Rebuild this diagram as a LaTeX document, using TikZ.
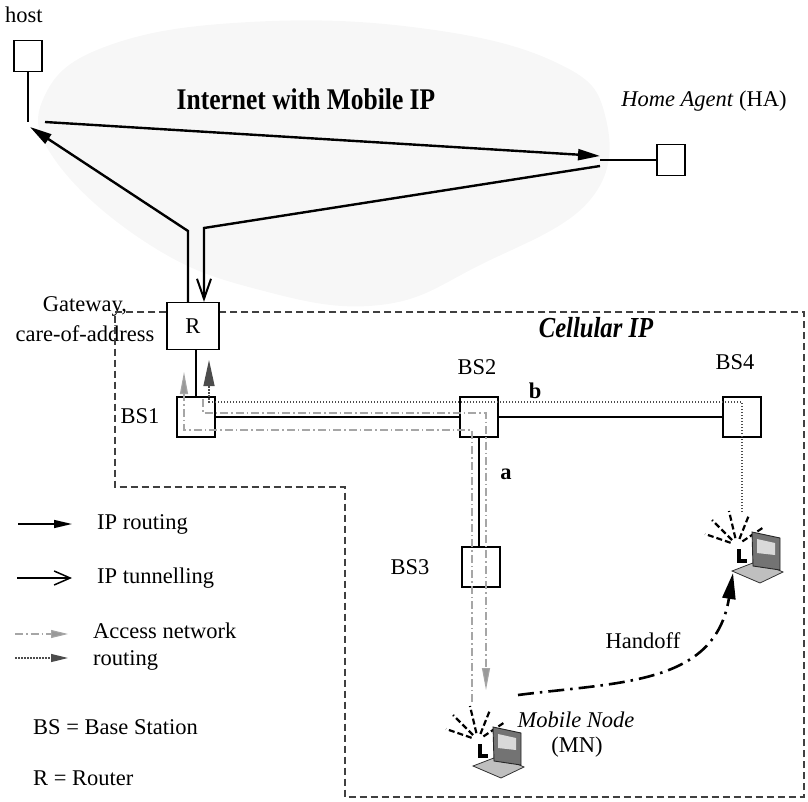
\documentclass[tikz,border=0pt]{standalone}
\usepackage{fontspec}
\setmainfont{Liberation Serif}
\newfontfamily\narrowserif[FakeStretch=0.85]{Liberation Serif}
\usetikzlibrary{arrows.meta}
\tikzset{
  lbl/.style     ={font=\fontsize{22.5}{27}\selectfont, inner sep=0pt},
  term/.style    ={draw, line width=1.3pt, minimum width=28pt, minimum height=31pt, inner sep=0pt},
  stn/.style     ={draw, line width=1.3pt, minimum width=38pt, minimum height=40pt, inner sep=0pt},
  wire/.style    ={line width=1.3pt},
  link/.style    ={line width=1.6pt},
  iproute/.style ={line width=2.4pt, -{Triangle[length=22pt,width=11pt]}},
  iptunnel/.style={line width=2.4pt, -{Straight Barb[length=20pt,width=14pt,line width=2pt]}},
  anrgrey/.style ={black!35, line width=1.1pt, dash pattern=on 8pt off 3pt on 1.5pt off 3pt,
                   -{Triangle[length=22pt,width=8pt,fill=black!40]}},
  anrdot/.style  ={black!70, line width=1.2pt, dash pattern=on 1.5pt off 1.5pt,
                   -{Triangle[length=26pt,width=11pt,fill=black!70]}},
  region/.style  ={black!75, line width=1.2pt, dash pattern=on 7pt off 4pt},
  handoff/.style ={line width=2.6pt, dash pattern=on 16pt off 6pt on 2.5pt off 6pt,
                   -{Triangle[length=26pt,width=13pt]}},
  wave/.style    ={line width=2.2pt, dash pattern=on 6pt off 3pt},
  laptop/.pic={
    % radio waves
    \foreach \dx/\dy in {-32/-11,-25/-25,-8/-34,12/-30,27/-18}
      \draw[wave] (\dx*0.2,\dy*0.2) -- (\dx,\dy);
    % keyboard
    \filldraw[draw=black!80, fill=black!25, line width=0.8pt]
      (-5,26) -- (21,16) -- (46,27) -- (23,38) -- cycle;
    % screen
    \filldraw[draw=black!85, fill=black!55, line width=0.9pt]
      (15,-13) -- (43,-7) -- (43,25) -- (16,21) -- cycle;
    \fill[black!15] (20,-6) -- (38,-2) -- (38,10) -- (20,8) -- cycle;
    % antenna
    \fill[black] (0,4) rectangle (4,18);
    \fill[black] (0,14) rectangle (10,18);
  }
}

\begin{document}
\begin{tikzpicture}[x=1pt, y=-1pt]
  \useasboundingbox (0,0) rectangle (808,802);

  % faint Internet cloud
  \fill[black!3] plot[smooth cycle, tension=0.7] coordinates
    {(55,160) (45,95) (110,45) (250,22) (420,28) (555,62) (605,115)
     (590,200) (480,265) (380,305) (260,290) (150,245)};

  % ---- Mobile IP part ----
  \node[lbl]  (hostlbl) at (24,15) {host};
  \node[term] (host) at (28,56) {};
  \node[term] (ha) at (671,160) {};
  \node[lbl]  (halbl) at (704,101) {\textit{Home Agent} (HA)};
  \node[font=\narrowserif\fontsize{30}{30}\selectfont\bfseries, inner sep=0pt]
        (inet) at (306,99) {Internet with Mobile IP};

  \coordinate (hostap) at (28,122);
  \coordinate (hatap)  at (600,160);
  \coordinate (hout)   at (45,122);
  \coordinate (hin)    at (30,127);
  \coordinate (hain)   at (600,156);
  \coordinate (haout)  at (600,166);
  \coordinate (rbend)  at (188,231);
  \coordinate (tbend)  at (204,228);
  \draw[wire] (host) -- (hostap);
  \draw[wire] (hatap) -- (ha);

  % ---- gateway and base stations ----
  \node[stn, minimum width=52pt, minimum height=47pt, font=\fontsize{22.5}{27}\selectfont]
        (gw) at (193,326) {R};
  \node[lbl, align=center, font=\fontsize{22.5}{30}\selectfont]
        (gwlbl) at (85,319) {Gateway,\\care-of-address};
  \node[stn] (bs1) at (196,417) {};
  \node[stn] (bs2) at (479,417) {};
  \node[stn] (bs3) at (481,567) {};
  \node[stn] (bs4) at (742,417) {};
  \node[lbl] (bs1lbl) at (140,416) {BS1};
  \node[lbl] (bs2lbl) at (477,367) {BS2};
  \node[lbl] (bs3lbl) at (410,567) {BS3};
  \node[lbl] (bs4lbl) at (735,362) {BS4};
  \node[lbl, font=\fontsize{22.5}{27}\selectfont\bfseries] (lblb) at (535,391) {b};
  \node[lbl, font=\fontsize{22.5}{27}\selectfont\bfseries] (lbla) at (506,474) {a};
  \node[font=\narrowserif\fontsize{29}{29}\selectfont\bfseries\itshape, inner sep=0pt]
        (cip) at (596,328) {Cellular IP};

  \draw[region] ([yshift=14pt]gw.west) -- (115,312) -- (115,487) -- (345,487)
        -- (345,797) -- (804,797) -- (804,312) -- ([yshift=14pt]gw.east);

  \draw[iproute]  (hout) -- (hain);
  \draw[iptunnel] (haout) -- (tbend) -- (tbend |- gw.north);
  \draw[iproute]  (rbend |- gw.north) -- (rbend) -- (hin);

  \draw[link] (bs1) -- (bs1 |- gw.south);
  \draw[link] (bs1) -- (bs2) -- (bs4);
  \draw[link] (bs2) -- (bs2 |- bs3.north);

  % ---- mobile nodes ----
  \coordinate (mn)  at (478,740);
  \coordinate (mn2) at (737,545);
  \pic at (mn)  {laptop};
  \pic at (mn2) {laptop};
  \node[lbl, font=\fontsize{22.5}{27}\selectfont\itshape] (mnlbl) at (576,720) {Mobile Node};
  \node[lbl] (mnabbr) at (577,747) {(MN)};
  \node[lbl] (holbl) at (643,641) {Handoff};

  % access network routing
  \coordinate (mnup)    at (472,702);
  \coordinate (gwin1)   at (184,372);
  \coordinate (gwout1)  at (203,399);
  \coordinate (mndown)  at (486,690);
  \coordinate (bs4down) at (742,512);
  \coordinate (gwin2)   at (209,360);
  \draw[anrgrey] (mnup) |- (196,430) -| (gwin1);
  \draw[anrgrey] (gwout1) |- (mndown |- 0,413) -- (mndown);
  \draw[anrdot]  (bs4down) |- (gwin2 |- 0,402) -- (gwin2);

  \draw[handoff] ([shift={(40,-45)}]mn) .. controls (620,682) and (715,685) .. ([shift={(-4,28)}]mn2);

  % ---- legend ----
  \node[lbl, anchor=west] (legroute) at (97,524) {IP routing};
  \node[lbl, anchor=west] (legtun) at (97,578) {IP tunnelling};
  \node[lbl, anchor=west, align=left] (legacc) at (93,647) {Access network\\routing};
  \node[lbl, anchor=west] (legbs) at (33,727) {BS = Base Station};
  \node[lbl, anchor=west] (legr) at (33,778) {R = Router};
  \draw[iproute, line width=1.5pt, -{Triangle[length=18pt,width=8pt]}]
        ([xshift=-79pt]legroute.west) -- ([xshift=-25pt]legroute.west);
  \draw[iptunnel, line width=1.5pt, -{Straight Barb[length=16pt,width=14pt,line width=1.5pt]}]
        ([xshift=-80pt]legtun.west) -- ([xshift=-25pt]legtun.west);
  \draw[anrgrey, -{Triangle[length=17pt,width=8pt,fill=black!40]}]
        ([shift={(-78pt,13pt)}]legacc.west) -- ([shift={(-25pt,13pt)}]legacc.west);
  \draw[anrdot, -{Triangle[length=17pt,width=8pt,fill=black!70]}]
        ([shift={(-78pt,-11pt)}]legacc.west) -- ([shift={(-25pt,-11pt)}]legacc.west);
\end{tikzpicture}
\end{document}
